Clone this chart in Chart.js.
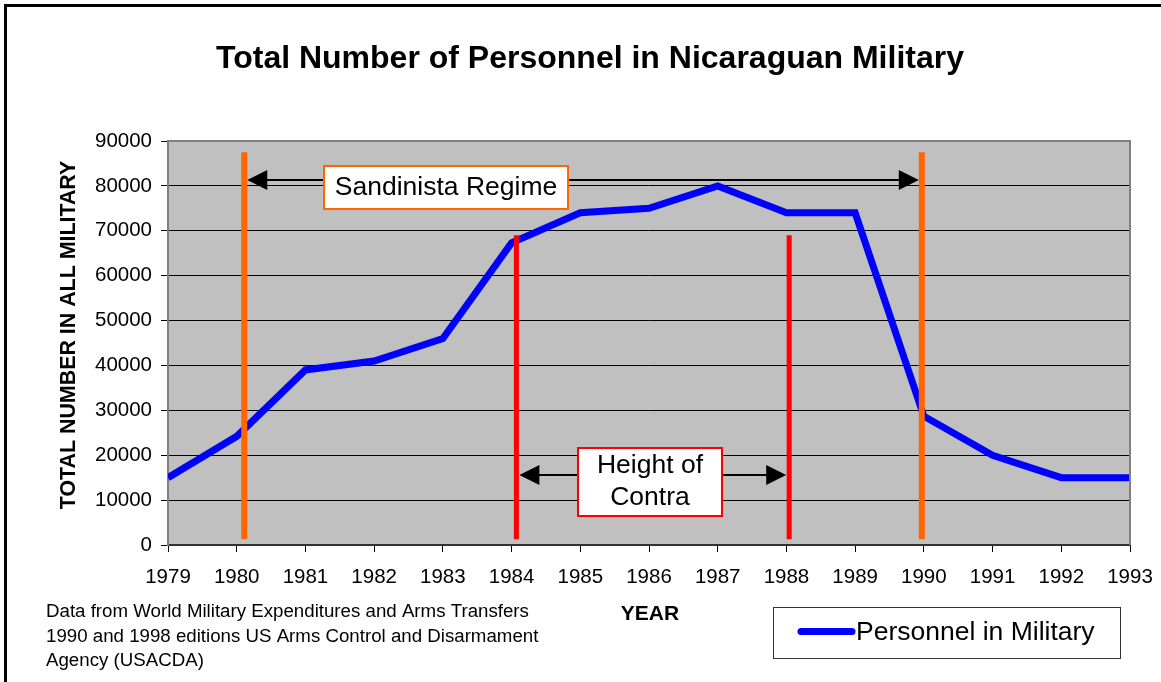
<!DOCTYPE html>
<html>
<head>
<meta charset="utf-8">
<script src="https://cdn.jsdelivr.net/npm/chart.js@4.4.1/dist/chart.umd.min.js"></script>
<style>
html,body{margin:0;padding:0;background:#fff;}
canvas{display:block;}
</style>
</head>
<body>
<canvas id="c" width="1161" height="682"></canvas>
<script>
// ---- Data ----
const years = [1979,1980,1981,1982,1983,1984,1985,1986,1987,1988,1989,1990,1991,1992,1993];
const personnel = [15000,24200,39000,41000,46000,67300,74000,75000,80000,74000,74000,28700,20000,15000,15000];
const yTicks = [0,10000,20000,30000,40000,50000,60000,70000,80000,90000];
const xTicks = years;

// ---- Annotation values (data coordinates) ----
const regimeLines = [1980.11, 1989.97];   // orange
const regimeSpan = [1300, 87500];
const contraLines = [1984.07, 1988.04];   // red
const contraSpan = [1300, 69000];
const regimeArrowY = 81300;
const contraArrowY = 15600;

const FONT = '"Liberation Sans", Arial, sans-serif';

function arrowHead(ctx, x, y, dir) {
  ctx.beginPath();
  ctx.moveTo(x, y);
  ctx.lineTo(x - dir*20, y - 10);
  ctx.lineTo(x - dir*20, y + 10);
  ctx.closePath();
  ctx.fill();
}

const deco = {
  id: 'deco',
  beforeDraw(chart) {
    const ctx = chart.ctx, a = chart.chartArea;
    ctx.save();
    ctx.fillStyle = '#fff';
    ctx.fillRect(0, 0, chart.width, chart.height);
    ctx.fillStyle = '#C0C0C0';
    ctx.fillRect(a.left, a.top, a.right - a.left, a.bottom - a.top);
    ctx.restore();
  },
  afterDatasetsDraw(chart) {
    const ctx = chart.ctx, a = chart.chartArea;
    const xs = chart.scales.x, ys = chart.scales.y;
    ctx.save();
    ctx.strokeStyle = '#808080';
    ctx.lineWidth = 2;
    ctx.beginPath();
    ctx.moveTo(a.left, a.top);
    ctx.lineTo(a.right, a.top);
    ctx.lineTo(a.right, a.bottom);
    ctx.stroke();

    ctx.lineWidth = 6;
    ctx.strokeStyle = '#FF6600';
    regimeLines.forEach(v => {
      const x = xs.getPixelForValue(v);
      ctx.beginPath();
      ctx.moveTo(x, ys.getPixelForValue(regimeSpan[1]));
      ctx.lineTo(x, ys.getPixelForValue(regimeSpan[0]));
      ctx.stroke();
    });
    ctx.lineWidth = 5;
    ctx.strokeStyle = '#FF0000';
    contraLines.forEach(v => {
      const x = xs.getPixelForValue(v);
      ctx.beginPath();
      ctx.moveTo(x, ys.getPixelForValue(contraSpan[1]));
      ctx.lineTo(x, ys.getPixelForValue(contraSpan[0]));
      ctx.stroke();
    });

    ctx.strokeStyle = '#000';
    ctx.fillStyle = '#000';
    ctx.lineWidth = 2;
    let y = ys.getPixelForValue(regimeArrowY);
    let x1 = xs.getPixelForValue(regimeLines[0]) + 3;
    let x2 = xs.getPixelForValue(regimeLines[1]) - 3;
    ctx.beginPath(); ctx.moveTo(x1 + 10, y); ctx.lineTo(x2 - 10, y); ctx.stroke();
    arrowHead(ctx, x1, y, -1); arrowHead(ctx, x2, y, 1);
    y = ys.getPixelForValue(contraArrowY);
    x1 = xs.getPixelForValue(contraLines[0]) + 3;
    x2 = xs.getPixelForValue(contraLines[1]) - 3;
    ctx.beginPath(); ctx.moveTo(x1 + 10, y); ctx.lineTo(x2 - 10, y); ctx.stroke();
    arrowHead(ctx, x1, y, -1); arrowHead(ctx, x2, y, 1);

    ctx.lineWidth = 2;
    ctx.fillStyle = '#fff';
    ctx.strokeStyle = '#FF6600';
    ctx.fillRect(324, 166, 244, 43);
    ctx.strokeRect(324, 166, 244, 43);
    ctx.strokeStyle = '#FF0000';
    ctx.fillRect(578, 448, 144, 68);
    ctx.strokeRect(578, 448, 144, 68);
    ctx.fillStyle = '#000';
    ctx.font = '26.5px ' + FONT;
    ctx.textAlign = 'center';
    ctx.textBaseline = 'middle';
    ctx.fillText('Sandinista Regime', 446, 188);
    ctx.fillText('Height of', 650, 466);
    ctx.fillText('Contra', 650, 498);
    ctx.restore();
  },
  afterDraw(chart) {
    const ctx = chart.ctx;
    ctx.save();
    ctx.strokeStyle = '#000';
    ctx.lineWidth = 3;
    ctx.beginPath();
    ctx.moveTo(5.5, 682);
    ctx.lineTo(5.5, 5.5);
    ctx.lineTo(1161, 5.5);
    ctx.stroke();

    ctx.fillStyle = '#000';
    ctx.textAlign = 'center';
    ctx.textBaseline = 'middle';
    ctx.font = 'bold 32px ' + FONT;
    ctx.fillText('Total Number of Personnel in Nicaraguan Military', 590, 59);
    ctx.font = 'bold 21px ' + FONT;
    ctx.fillText('YEAR', 650, 614);
    ctx.save();
    ctx.translate(69, 335);
    ctx.rotate(-Math.PI/2);
    ctx.font = 'bold 21.4px ' + FONT;
    ctx.fillText('TOTAL NUMBER IN ALL MILITARY', 0, 0);
    ctx.restore();

    ctx.textAlign = 'left';
    ctx.font = '18.7px ' + FONT;
    ctx.fillText('Data from World Military Expenditures and Arms Transfers', 46, 612);
    ctx.fillText('1990 and 1998 editions US Arms Control and Disarmament', 46, 637);
    ctx.fillText('Agency (USACDA)', 46, 661);

    ctx.strokeStyle = '#333';
    ctx.lineWidth = 1;
    ctx.strokeRect(773.5, 607.5, 347, 51);
    ctx.strokeStyle = '#0000FF';
    ctx.lineWidth = 7;
    ctx.lineCap = 'round';
    ctx.beginPath(); ctx.moveTo(801, 631.5); ctx.lineTo(852, 631.5); ctx.stroke();
    ctx.fillStyle = '#000';
    ctx.font = '26.5px ' + FONT;
    ctx.fillText(chart.data.datasets[0].label, 856, 633);
    ctx.restore();
  }
};

new Chart(document.getElementById('c'), {
  type: 'line',
  data: {
    datasets: [{
      label: 'Personnel in Military',
      data: years.map((y, i) => ({x: y, y: personnel[i]})),
      borderColor: '#0000FF',
      backgroundColor: '#0000FF',
      borderWidth: 7,
      pointRadius: 0,
      tension: 0,
      fill: false
    }]
  },
  options: {
    responsive: false,
    animation: false,
    devicePixelRatio: 1,
    layout: { padding: { top: 141, right: 31, left: 0, bottom: 0 } },
    plugins: { legend: { display: false }, title: { display: false }, tooltip: { enabled: false } },
    scales: {
      x: {
        type: 'linear',
        min: 1979, max: 1993,
        afterFit(s) { s.height = 137; s.paddingLeft = 0; s.paddingRight = 0; },
        afterBuildTicks(s) { s.ticks = xTicks.map(v => ({value: v})); },
        ticks: { color: '#000', font: { family: FONT, size: 20.5 }, padding: 13, maxRotation: 0, autoSkip: false,
                 callback: v => String(v) },
        grid: { drawOnChartArea: false, drawTicks: true, tickLength: 7, color: '#000', lineWidth: 1 },
        border: { color: '#333', width: 2 }
      },
      y: {
        min: 0, max: 90000,
        afterFit(s) { s.width = 168; s.paddingTop = 0; s.paddingBottom = 0; },
        afterBuildTicks(s) { s.ticks = yTicks.map(v => ({value: v})); },
        ticks: { color: '#000', font: { family: FONT, size: 20.5 }, padding: 9, autoSkip: false,
                 callback: v => String(v) },
        grid: { color: '#000', lineWidth: 1, drawTicks: true, tickLength: 7 },
        border: { color: '#808080', width: 2 }
      }
    }
  },
  plugins: [deco]
});
</script>
</body>
</html>
